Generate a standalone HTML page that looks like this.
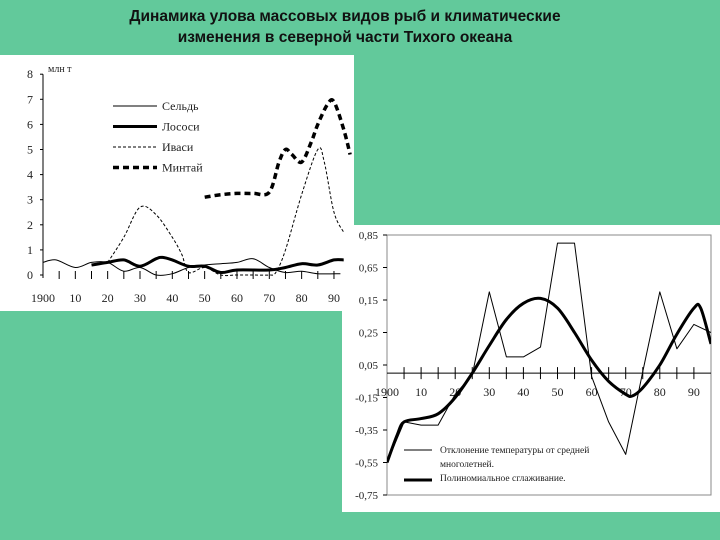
<!DOCTYPE html>
<html><head><meta charset="utf-8"><style>
body{margin:0;width:720px;height:540px;background:#62c99b;overflow:hidden;font-family:"Liberation Sans",sans-serif}
#t{position:absolute;left:0;top:6px;width:690px;text-align:center;font-weight:bold;font-size:15.5px;line-height:21px;color:#111}
svg{position:absolute;left:0;top:0}
</style></head><body>
<div id="t">Динамика улова массовых видов рыб и климатические<br>изменения в северной части Тихого океана</div>
<svg width="720" height="540">
<rect x="0" y="55" width="354" height="256" fill="#fff"/>
<rect x="342" y="225" width="378" height="287" fill="#fff"/>
<g id="c1" font-family="Liberation Serif,serif" font-size="12" fill="#222"></g>
<g id="c2" font-family="Liberation Serif,serif" font-size="11" fill="#222"></g>
</svg>
<script>
// Chart 1 data
const herYears=[1900,1904,1910,1915,1920,1925,1930,1935,1940,1945,1950,1955,1960,1965,1970,1975,1980,1985,1992];
const herVals=[0.5,0.6,0.3,0.5,0.5,0.15,0.3,0.0,0.05,0.3,0.4,0.45,0.5,0.65,0.3,0.1,0.15,0.05,0.05];
const salYears=[1915,1920,1925,1930,1935,1937,1940,1945,1950,1955,1960,1970,1975,1980,1985,1990,1993];
const salVals=[0.4,0.5,0.6,0.35,0.65,0.7,0.6,0.35,0.35,0.1,0.2,0.2,0.3,0.45,0.4,0.6,0.6];
const sarYears=[1920,1925,1930,1935,1940,1943,1945,1950,1955,1960,1965,1970,1972,1975,1980,1985,1987,1990,1993];
const sarVals=[0.5,1.5,2.7,2.4,1.5,0.8,0.1,0.3,0.0,0.0,0.0,0.0,0.1,1.0,3.2,5.0,4.5,2.5,1.7];
const polYears=[1950,1955,1960,1965,1970,1973,1975,1977,1980,1983,1985,1988,1990,1993,1995];
const polVals=[3.1,3.2,3.25,3.25,3.3,4.5,5.0,4.8,4.5,5.3,6.0,6.8,6.9,5.8,4.8];
const y1Ticks=[0,1,2,3,4,5,6,7,8];
const x1Labels=["1900","10","20","30","40","50","60","70","80","90"];
// Chart 2 data
const tYears=[1900,1905,1910,1915,1920,1925,1930,1935,1940,1945,1950,1955,1960,1965,1970,1975,1980,1985,1990,1995];
const tVals=[-0.55,-0.30,-0.32,-0.32,-0.13,-0.01,0.50,0.10,0.10,0.16,0.80,0.80,-0.02,-0.30,-0.50,0.01,0.50,0.15,0.30,0.25];
const sYears=[1900,1903,1905,1910,1915,1920,1925,1930,1935,1940,1945,1950,1955,1960,1965,1970,1972,1975,1980,1985,1990,1992,1995];
const sVals=[-0.55,-0.38,-0.30,-0.28,-0.25,-0.15,0.0,0.17,0.33,0.43,0.46,0.40,0.25,0.08,-0.05,-0.13,-0.14,-0.09,0.05,0.24,0.40,0.40,0.18];
const y2Labels=["0,85","0,65","0,15","0,25","0,05","-0,15","-0,35","-0,55","-0,75"];
const x2Labels=["1900","10","20","30","40","50","60","70","80","90"];

const NS="http://www.w3.org/2000/svg";
function mk(g,tag,at){const e=document.createElementNS(NS,tag);for(const k in at)e.setAttribute(k,at[k]);g.appendChild(e);return e;}
const g1=document.getElementById('c1'),g2=document.getElementById('c2');
const X1=y=>43+(y-1900)*3.233, Y1=v=>275-v*25.1;
const X2=y=>387+(y-1900)*3.41, Y2=v=>235+(0.85-v)/0.2*32.5;

let e=mk(g1,'line',{x1:43,y1:Y1(8),x2:43,y2:Y1(0)+3,stroke:'#000','stroke-width':1});

y1Ticks.forEach(v=>{mk(g1,'line',{x1:40,y1:Y1(v),x2:43,y2:Y1(v),stroke:'#000'});
 let t=mk(g1,'text',{x:30,y:Y1(v)+4,'text-anchor':'middle'});t.textContent=v;
 });
e=mk(g1,'text',{x:48,y:72,'font-size':10});e.textContent='млн т';

for(let y=1905;y<=1990;y+=5){mk(g1,'line',{x1:X1(y),y1:Y1(0)-4,x2:X1(y),y2:Y1(0)+4,stroke:'#000'});}
x1Labels.forEach((l,i)=>{let t=mk(g1,'text',{x:X1(1900+i*10),y:302,'text-anchor':'middle'});t.textContent=l;
 });
function smooth(pts){let d='M'+pts[0][0].toFixed(1)+','+pts[0][1].toFixed(1);
 for(let i=0;i<pts.length-1;i++){const p0=pts[Math.max(0,i-1)],p1=pts[i],p2=pts[i+1],p3=pts[Math.min(pts.length-1,i+2)];
  const c1=[p1[0]+(p2[0]-p0[0])/6,p1[1]+(p2[1]-p0[1])/6],c2=[p2[0]-(p3[0]-p1[0])/6,p2[1]-(p3[1]-p1[1])/6];
  d+=' C'+c1.map(n=>n.toFixed(1)).join(',')+' '+c2.map(n=>n.toFixed(1)).join(',')+' '+p2[0].toFixed(1)+','+p2[1].toFixed(1);}
 return d;}
function line(g,X,Y,xs,vs,st,name,clip,curve){const pts=xs.map((x,i)=>[X(x),Y(vs[i])]);
 const a=Object.assign({fill:'none','stroke-linejoin':'round'},st);if(clip)a['clip-path']=clip;
 let el;if(curve){a.d=smooth(pts);el=mk(g,'path',a);}else{a.points=pts.map(p=>p[0].toFixed(1)+','+p[1].toFixed(1)).join(' ');el=mk(g,'polyline',a);}
 }
mk(document.querySelector('svg'),'clipPath',{id:'cp1'}).appendChild(document.createElementNS(NS,'rect'));
const cr=document.querySelector('#cp1 rect');cr.setAttribute('x',0);cr.setAttribute('y',55);cr.setAttribute('width',352);cr.setAttribute('height',256);
line(g1,X1,Y1,herYears,herVals,{stroke:'#000','stroke-width':1},'herring-line','url(#cp1)',true);
line(g1,X1,Y1,salYears,salVals,{stroke:'#000','stroke-width':3},'salmon-line','url(#cp1)',true);
line(g1,X1,Y1,sarYears,sarVals,{stroke:'#000','stroke-width':1,'stroke-dasharray':'3,2'},'sardine-line','url(#cp1)',true);
line(g1,X1,Y1,polYears,polVals,{stroke:'#000','stroke-width':3.5,'stroke-dasharray':'6,4'},'pollock-line','url(#cp1)',true);
const leg=[['Сельдь',{stroke:'#000','stroke-width':1}],['Лососи',{stroke:'#000','stroke-width':3}],['Иваси',{stroke:'#000','stroke-width':1,'stroke-dasharray':'3,2'}],['Минтай',{stroke:'#000','stroke-width':3.5,'stroke-dasharray':'6,4'}]];
leg.forEach((l,i)=>{const y=106+i*20.5;mk(g1,'line',Object.assign({x1:113,y1:y,x2:157,y2:y},l[1]));
 let t=mk(g1,'text',{x:162,y:y+4});t.textContent=l[0];});

e=mk(g2,'rect',{x:387,y:235,width:324,height:260,fill:'none',stroke:'#888'});

y2Labels.forEach((l,i)=>{const y=235+i*32.5;mk(g2,'line',{x1:383,y1:y,x2:387,y2:y,stroke:'#000'});
 let t=mk(g2,'text',{x:378,y:y+4,'text-anchor':'end'});t.textContent=l;});
mk(g2,'line',{x1:387,y1:Y2(0),x2:711,y2:Y2(0),stroke:'#000'});
for(let y=1905;y<=1990;y+=5)mk(g2,'line',{x1:X2(y),y1:Y2(0)-6,x2:X2(y),y2:Y2(0)+6,stroke:'#000'});
x2Labels.forEach((l,i)=>{let t=mk(g2,'text',{x:X2(1900+i*10),y:Y2(0)+23,'text-anchor':'middle','font-size':12});t.textContent=l;
 });
mk(document.querySelector('svg'),'clipPath',{id:'cp2'}).appendChild(document.createElementNS(NS,'rect'));
const cr2=document.querySelector('#cp2 rect');cr2.setAttribute('x',387);cr2.setAttribute('y',225);cr2.setAttribute('width',324);cr2.setAttribute('height',280);
line(g2,X2,Y2,tYears,tVals,{stroke:'#000','stroke-width':1},'temperature-line','url(#cp2)',false);
line(g2,X2,Y2,sYears,sVals,{stroke:'#000','stroke-width':3},'polynomial-smoothing-line','url(#cp2)',true);
mk(g2,'line',{x1:404,y1:450,x2:432,y2:450,stroke:'#000','stroke-width':1});
mk(g2,'line',{x1:404,y1:480,x2:432,y2:480,stroke:'#000','stroke-width':3});
[['Отклонение температуры от средней',453],['многолетней.',467],['Полиномиальное сглаживание.',481]].forEach(a=>{
 let t=mk(g2,'text',{x:440,y:a[1],'font-size':9.5});t.textContent=a[0];});
</script>
</body></html>
